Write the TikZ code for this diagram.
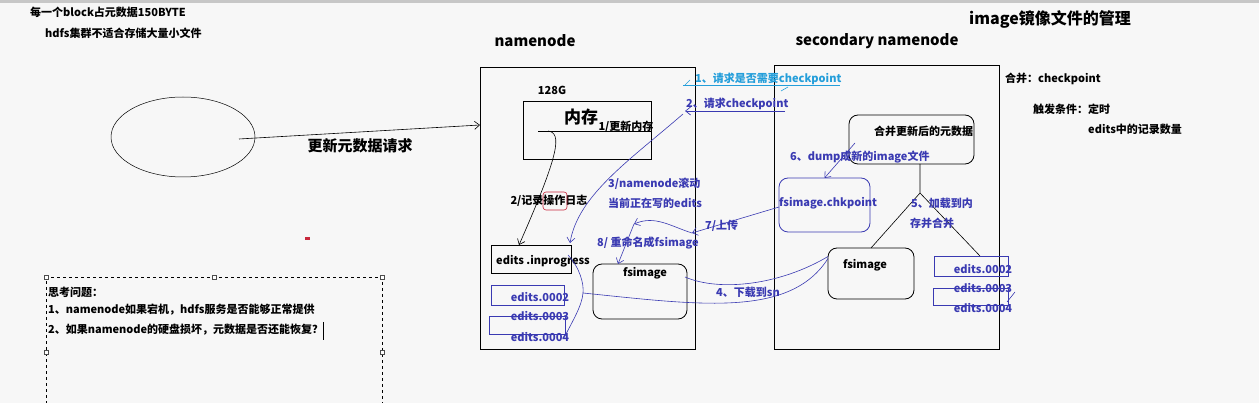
\documentclass[tikz,border=0pt]{standalone}
\usepackage{fontspec}
\setmainfont{Noto Sans CJK SC}
\usetikzlibrary{arrows.meta,shapes.geometric}
\definecolor{inkblue}{RGB}{58,58,178}
\definecolor{inkcyan}{RGB}{36,158,218}
\definecolor{paper}{RGB}{247,247,247}
\definecolor{markred}{RGB}{200,40,60}
\tikzset{
	lbl/.style={inner sep=0pt, font=\fontsize{11}{13}\selectfont\bfseries},
	bluelbl/.style={lbl, text=inkblue},
	head/.style={inner sep=0pt, font=\fontsize{15}{18}\selectfont\bfseries},
	box/.style={draw, line width=0.8pt, inner sep=0pt, outer sep=0pt, anchor=north west},
	roundbox/.style={box, rounded corners=9pt},
	bluebox/.style={box, draw=inkblue, line width=0.7pt},
	handle/.style={draw=black!70, fill=white, line width=0.4pt, minimum size=4pt, inner sep=0pt},
}

\begin{document}
\begin{tikzpicture}[x=1pt, y=-1pt, >={Straight Barb[length=5pt,width=8pt]}]
		%%%%% START %%%%%
		
		\useasboundingbox (0, 0) rectangle (1259, 403);
		\fill[paper] (0, 0) rectangle (1259, 403);
		\fill[black!22] (0, 0) rectangle (1259, 3);
		
		% notes at the top
		\node[lbl, anchor=west] (note1) at (30, 12) {每一个block占元数据150BYTE};
		\node[lbl, anchor=west] (note2) at (45, 33) {hdfs集群不适合存储大量小文件};
		\node[head, font=\fontsize{16}{19}\selectfont\bfseries] (title) at (1050, 19) {image镜像文件的管理};
		\node[head] (nntitle) at (535, 41) {namenode};
		\node[head] (sntitle) at (877, 41) {secondary namenode};
		
		% client and request
		\node[draw, ellipse, line width=0.5pt, minimum width=144pt, minimum height=80pt] (client) at (183, 137) {};
		\coordinate (reqfrom) at (239, 139);
		\coordinate (reqto) at (480, 125);
		\draw[->, line width=0.6pt] (reqfrom) -- (reqto);
		\node[head] (reqlbl) at (360, 146) {更新元数据请求};
		
		% namenode
		\node[box, minimum width=215pt, minimum height=282pt] (nn) at (480, 67) {};
		\node[lbl] (ram) at (552, 90) {128G};
		\node[box, minimum width=128pt, minimum height=58pt] (mem) at (523, 101) {};
		\node[inner sep=0pt, font=\fontsize{17}{20}\selectfont\bfseries] (memlbl) at (581, 117) {内存};
		\node[lbl] (step1) at (626, 127) {1/更新内存};
		\coordinate (memline) at (538, 131);
		\draw[line width=0.6pt] (memline) -- (memline -| mem.east);
		\node[box, minimum width=80pt, minimum height=28pt] (inprog) at (491, 245) {};
		\node[lbl] at (543, 261) {edits .inprogress};
		\draw[->, line width=0.6pt] (548, 131) .. controls (562, 133) and (560, 152) .. ([xshift=-12pt]inprog.north);
		\node[lbl] (step2) at (549, 201) {2/记录操作日志};
		\draw[markred, rounded corners=3pt, line width=0.6pt] (543, 192) rectangle (567, 210);
		\node[roundbox, minimum width=94pt, minimum height=55pt] (nnimg) at (593, 264) {};
		\node[lbl] at (645, 273) {fsimage};
		\node[bluebox, minimum width=73pt, minimum height=20pt] (nne2) at (491, 285) {};
		\node[bluebox, minimum width=76pt, minimum height=18pt] (nne3) at (489, 316) {};
		\node[bluelbl] at (540, 297) {edits.0002};
		\node[bluelbl] at (540, 316) {edits.0003};
		\node[bluelbl] at (540, 337) {edits.0004};
		
		% secondary namenode
		\node[box, minimum width=225pt, minimum height=284pt] (sn) at (774, 65) {};
		\node[roundbox, minimum width=125pt, minimum height=49pt] (merge) at (849, 115) {};
		\node[lbl, anchor=west] at (874, 131) {合并更新后的元数据};
		\node[roundbox, draw=inkblue, minimum width=91pt, minimum height=54pt] (chk) at (779, 178) {};
		\node[bluelbl, anchor=west] at (779, 203) {fsimage.chkpoint};
		\node[roundbox, minimum width=86pt, minimum height=51pt] (snimg) at (828, 248) {};
		\node[lbl] at (865, 265) {fsimage};
		\node[bluebox, minimum width=74pt, minimum height=20pt] (sne2) at (934, 256) {};
		\node[bluebox, minimum width=75pt, minimum height=17pt] (sne3) at (933, 288) {};
		\node[bluelbl] at (983, 269) {edits.0002};
		\node[bluelbl] at (983, 288) {edits.0003};
		\node[bluelbl] at (983, 308) {edits.0004};
		\draw[inkblue, line width=0.6pt] (1007, 302) -- (1015, 292);
		\coordinate (fork) at (920, 193);
		\draw[line width=0.6pt] (merge.south -| fork) -- (fork) -- (snimg.north);
		\draw[line width=0.6pt] (fork) -- ([xshift=9pt]sne2.north);
		\node[bluelbl, anchor=west] at (911, 203) {5、加载到内};
		\node[bluelbl, anchor=west] at (910, 223) {存并合并};
		\node[bluelbl, anchor=west] at (790, 157) {6、dump成新的image文件};
		\draw[inkblue, ->, line width=0.6pt] (855, 143) -- (chk.north);
		
		% checkpoint steps
		\node[lbl, text=inkcyan, anchor=west] (ask1) at (695, 79) {1、请求是否需要checkpoint};
		\draw[inkcyan, line width=0.7pt] (683, 85) -- (840, 85);
		\draw[inkcyan, line width=0.6pt] (685, 85) -- (690, 80);
		\draw[inkcyan, line width=0.6pt] (781, 91) -- (788, 87);
		\node[bluelbl, anchor=west] (ask2) at (686, 104) {2、请求checkpoint};
		\draw[inkblue, ->, line width=0.7pt] (785, 111) -- (685, 111);
		\draw[inkblue, ->, line width=0.6pt] (683, 114) .. controls (630, 160) and (578, 195) .. (570, 243);
		\node[bluelbl, anchor=west] at (608, 184) {3/namenode滚动};
		\node[bluelbl, anchor=west] at (608, 203) {当前正在写的edits};
		\draw[inkblue, line width=0.6pt] (568, 255) .. controls (580, 268) and (584, 284) .. (583, 293) .. controls (582, 306) and (572, 322) .. (565, 336);
		\draw[inkblue, line width=0.6pt] (583, 293) .. controls (700, 305) and (790, 318) .. ([yshift=15pt]snimg.west);
		\draw[inkblue, line width=0.6pt] (685, 277) .. controls (720, 292) and (780, 285) .. ([yshift=17pt]snimg.west);
		\node[bluelbl] at (748, 292) {4、下载到sn};
		\coordinate (up7) at (692, 233);
		\coordinate (turn) at (634, 224);
		\draw[inkblue, ->, line width=0.6pt] ([yshift=-2pt]chk.west) -- (up7);
		\draw[inkblue, ->, line width=0.6pt] (up7) .. controls (670, 226) and (655, 215) .. (turn);
		\draw[inkblue, ->, line width=0.6pt] (turn) -- ([xshift=-22pt]nnimg.north);
		\node[bluelbl, anchor=west] at (705, 226) {7/上传};
		\node[bluelbl, anchor=west] at (597, 243) {8/ 重命名成fsimage};
		
		% right notes
		\node[lbl, anchor=west] at (1005, 79) {合并：checkpoint};
		\node[lbl, anchor=west] at (1033, 109) {触发条件：定时};
		\node[lbl, anchor=west] at (1088, 129) {edits中的记录数量};
		
		% question box
		\draw[dashed, line width=0.6pt] (46, 410) -- (46, 277) -- (382, 277) -- (382, 410);
		\foreach \hx/\hy in {46/277, 214/277, 382/277, 46/352, 382/352}
			\node[handle] at (\hx, \hy) {};
		\node[lbl, anchor=west] at (48, 292) {思考问题：};
		\node[lbl, anchor=west] at (48, 310) {1、namenode如果宕机，hdfs服务是否能够正常提供};
		\node[lbl, anchor=west] (q2) at (48, 330) {2、如果namenode的硬盘损坏，元数据是否还能恢复？};
		\draw[line width=0.8pt] (323, 322) -- (323, 340);
		\fill[markred] (305, 237.5) rectangle (310, 240.5);
		
		%%%%% END %%%%%
	\end{tikzpicture}
\end{document}
